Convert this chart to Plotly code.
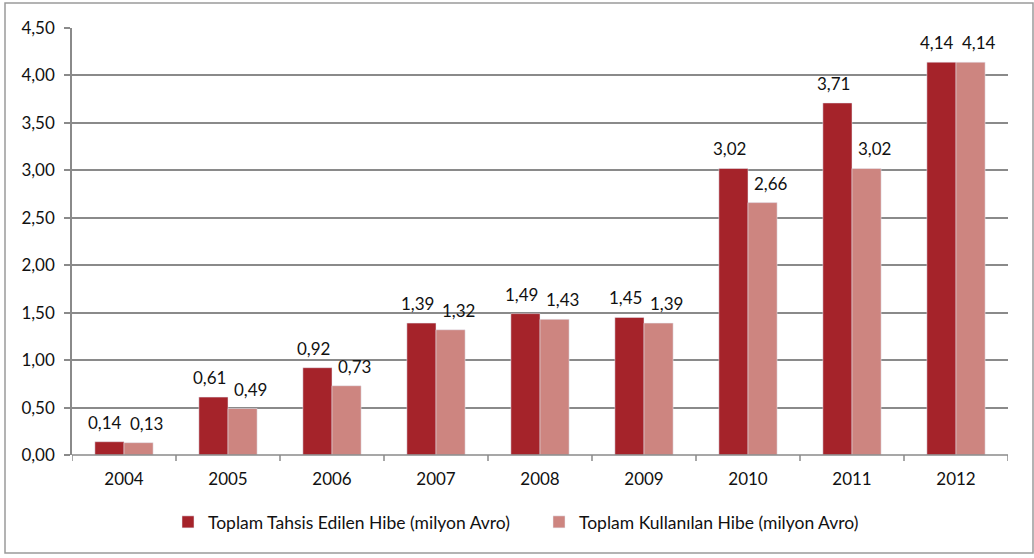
import plotly.graph_objects as go

years = ["2004", "2005", "2006", "2007", "2008", "2009", "2010", "2011", "2012"]
tahsis = [0.14, 0.61, 0.92, 1.39, 1.49, 1.45, 3.02, 3.71, 4.14]
kullanilan = [0.13, 0.49, 0.73, 1.32, 1.43, 1.39, 2.66, 3.02, 4.14]
name_tahsis = "Toplam Tahsis Edilen Hibe (milyon Avro)"
name_kullanilan = "Toplam Kullanılan Hibe (milyon Avro)"
y_ticks = [0, 0.5, 1, 1.5, 2, 2.5, 3, 3.5, 4, 4.5]

W, H = 1034, 558
L, R, T, B = 72, 26, 28, 103
pw, ph = W - L - R, H - T - B

font = "Lato, 'Open Sans', sans-serif"
dark, light = "#A5232A", "#CD8580"
gcol = "#8a8a8a"
tcol = "#111111"
bargap = 0.44
half_bar = pw / len(years) * (1 - bargap) / 4

fig = go.Figure()
fig.add_trace(go.Bar(x=years, y=tahsis, name=name_tahsis, marker_color=dark))
fig.add_trace(go.Bar(x=years, y=kullanilan, name=name_kullanilan, marker_color=light))


def px_x(p):
    return (p - L) / pw


def px_y(p):
    return (H - B - p) / ph


def fmt(v):
    return f"{v:.2f}".replace(".", ",")


annotations = []
for i, v in enumerate(tahsis):
    annotations.append(dict(x=i, y=v, xref="x", yref="y", text=fmt(v), showarrow=False,
                            xshift=-half_bar - 4, yanchor="bottom", yshift=7,
                            font=dict(size=17, color=tcol, family=font)))
for i, v in enumerate(kullanilan):
    annotations.append(dict(x=i, y=v, xref="x", yref="y", text=fmt(v), showarrow=False,
                            xshift=half_bar + 8, yanchor="bottom", yshift=7,
                            font=dict(size=17, color=tcol, family=font)))

fig.update_layout(
    width=W, height=H,
    margin=dict(l=L, r=R, t=T, b=B, autoexpand=False),
    paper_bgcolor="white", plot_bgcolor="white",
    separators=",.",
    barmode="group", bargap=bargap, bargroupgap=0,
    font=dict(family=font, size=17, color=tcol),
    showlegend=True,
    legend=dict(orientation="h", x=px_x(168), xanchor="left", y=px_y(522), yanchor="middle",
                font=dict(size=17.5, family=font, color=tcol), itemwidth=30,
                traceorder="normal", entrywidth=326, entrywidthmode="pixels"),
    xaxis=dict(type="category", range=[-0.5, len(years) - 0.5], autorange=False,
               showgrid=False, showline=False, ticks="",
               tickfont=dict(size=17), ticklabelstandoff=12),
    yaxis=dict(range=[0, 4.5], autorange=False, tickvals=y_ticks, tickformat=".2f",
               showgrid=True, gridcolor=gcol, gridwidth=1.5,
               showline=True, linecolor=gcol, linewidth=1.5,
               ticks="outside", ticklen=6, tickcolor=gcol, tickwidth=1.5,
               zeroline=False, tickfont=dict(size=17), ticklabelstandoff=6),
    annotations=annotations,
    shapes=[
        dict(type="rect", xref="paper", yref="paper",
             x0=px_x(5), x1=px_x(1033), y0=px_y(3), y1=px_y(553),
             line=dict(color="#9a9a9a", width=1.5), fillcolor="rgba(0,0,0,0)", layer="below"),
        dict(type="line", xref="paper", yref="paper", x0=0, x1=1, y0=0, y1=0,
             line=dict(color=gcol, width=1.5)),
    ],
)
for i in range(len(years) + 1):
    fig.add_shape(type="line", xref="x", yref="paper", x0=i - 0.5, x1=i - 0.5,
                  y0=0, y1=px_y(461), line=dict(color=gcol, width=1.5))

fig.write_html("out.html", config={"displayModeBar": False})

with open("out.html", encoding="utf-8") as f:
    html = f.read()
html = html.replace("<body>", '<body style="margin:0;padding:0;overflow:hidden">', 1)
with open("out.html", "w", encoding="utf-8") as f:
    f.write(html)
